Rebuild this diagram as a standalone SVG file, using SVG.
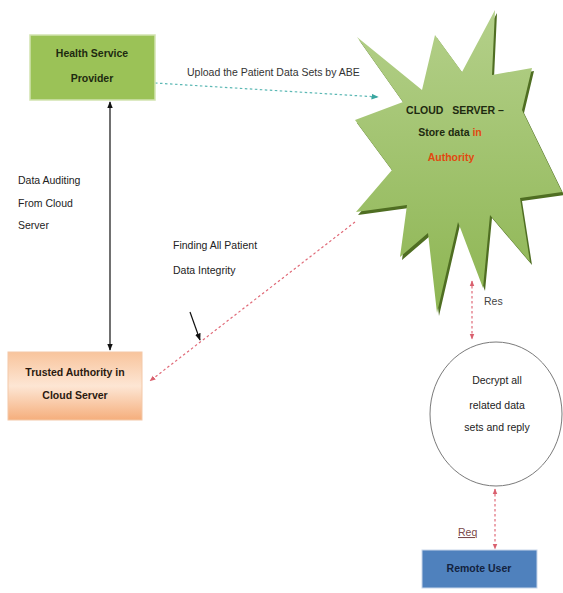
<svg xmlns="http://www.w3.org/2000/svg" width="563" height="593" viewBox="0 0 563 593">
<defs>
<style>
.t{font-family:"Liberation Sans",Arial,sans-serif;font-size:10.5px}
.b{font-weight:bold}
.c{text-anchor:middle}
.red{stroke:#e06a78;stroke-width:1.2;stroke-dasharray:2.5 2.5;fill:none}
</style>
<linearGradient id="gStar" x1="0" y1="0" x2="0" y2="1">
<stop offset="0" stop-color="#b4d08a"/><stop offset="1" stop-color="#8db552"/>
</linearGradient>
<linearGradient id="gTA" x1="0" y1="0" x2="0" y2="1">
<stop offset="0" stop-color="#f8c49c"/><stop offset="0.5" stop-color="#fde6d4"/><stop offset="1" stop-color="#f5ae7c"/>
</linearGradient>
<marker id="aBlk" viewBox="0 0 10 10" refX="9" refY="5" markerWidth="6" markerHeight="6" orient="auto-start-reverse"><path d="M0,1 L10,5 L0,9 z" fill="#111"/></marker>
<marker id="aRed" viewBox="0 0 10 10" refX="9" refY="5" markerWidth="5" markerHeight="5" orient="auto-start-reverse"><path d="M0,1 L10,5 L0,9 z" fill="#d9606e"/></marker>
<marker id="aTeal" viewBox="0 0 10 10" refX="9" refY="5" markerWidth="6" markerHeight="6" orient="auto"><path d="M0,1 L10,5 L0,9 z" fill="#3aa6a0"/></marker>
</defs>
<rect width="563" height="593" fill="#fff"/>

<g id="connectors">
<line x1="155" y1="83" x2="378" y2="97" stroke="#5bb8b4" stroke-width="1.2" stroke-dasharray="2.5 2.5" marker-end="url(#aTeal)"/>
<line x1="110" y1="102" x2="110" y2="350" stroke="#111" stroke-width="1.2" marker-start="url(#aBlk)" marker-end="url(#aBlk)"/>
<line x1="355" y1="222" x2="150" y2="381" class="red" marker-end="url(#aRed)"/>
<line x1="190" y1="312" x2="200" y2="340" stroke="#111" stroke-width="1.2" marker-end="url(#aBlk)"/>
<line x1="472" y1="281" x2="472" y2="339" class="red" marker-start="url(#aRed)" marker-end="url(#aRed)"/>
<line x1="495" y1="489" x2="495" y2="549" class="red" marker-start="url(#aRed)" marker-end="url(#aRed)"/>
<text class="t" x="187" y="76" font-size="10" fill="#333">Upload the Patient Data Sets by ABE</text>
<text class="t" x="18" y="184" fill="#222">Data Auditing</text>
<text class="t" x="18" y="207" fill="#222">From Cloud</text>
<text class="t" x="18" y="229" fill="#222">Server</text>
<text class="t" x="173" y="249" fill="#222">Finding All Patient</text>
<text class="t" x="173" y="274" fill="#222">Data Integrity</text>
<text class="t" x="484" y="305" fill="#444">Res</text>
<text class="t" x="458" y="536" fill="#7a4a4a" text-decoration="underline">Req</text>
</g>

<g id="hsp">
<rect x="30" y="35" width="125" height="65" fill="#9bc257" stroke="#d2e3b0" stroke-width="1.5"/>
<text class="t b c" x="92" y="57" fill="#1e2a10">Health Service</text>
<text class="t b c" x="92" y="82" fill="#1e2a10">Provider</text>
</g>

<g id="cloud">
<polygon transform="translate(2,3)" fill="#4f6e22" points="495,10 492,75 532,68 522,110 562,192 520,198 530,262 490,215 483,288 458,222 437,313 428,233 400,257 407,205 356,212 392,170 355,120 403,102 357,37 422,90 435,35 462,72"/>
<polygon fill="url(#gStar)" points="495,10 492,75 532,68 522,110 562,192 520,198 530,262 490,215 483,288 458,222 437,313 428,233 400,257 407,205 356,212 392,170 355,120 403,102 357,37 422,90 435,35 462,72"/>
<text class="t b c" x="455" y="114" font-size="10" fill="#1e2a10" xml:space="preserve">CLOUD   SERVER –</text>
<text class="t b c" x="450" y="136" font-size="10" fill="#1e2a10">Store data <tspan fill="#e04a10">in</tspan></text>
<text class="t b c" x="451" y="161" font-size="10" fill="#e04a10">Authority</text>
</g>

<g id="ta">
<rect x="8" y="352" width="134" height="68" fill="url(#gTA)" stroke="#f3c8a8" stroke-width="1"/>
<text class="t b c" x="75" y="376" fill="#2a1a10">Trusted Authority in</text>
<text class="t b c" x="75" y="399" fill="#2a1a10">Cloud Server</text>
</g>

<g id="decrypt">
<ellipse cx="496" cy="414" rx="66" ry="72" fill="#fff" stroke="#7a7a7a" stroke-width="1"/>
<text class="t c" x="497" y="384" fill="#222">Decrypt all</text>
<text class="t c" x="497" y="409" fill="#222">related data</text>
<text class="t c" x="497" y="431" fill="#222">sets and reply</text>
</g>

<g id="remote">
<rect x="422" y="550" width="115" height="38" fill="#4f81bd" stroke="#c8d6ea" stroke-width="1"/>
<text class="t b c" x="479" y="572" fill="#13233f">Remote User</text>
</g>
</svg>
